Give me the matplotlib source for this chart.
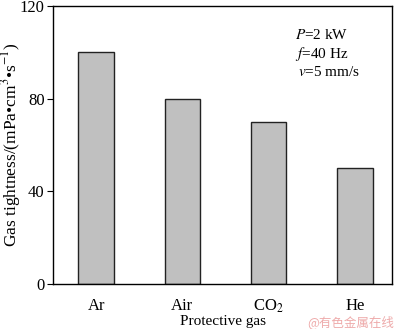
import matplotlib
matplotlib.use('Agg')
import matplotlib.pyplot as plt

gases = ['Ar', 'Air', 'CO$_2$', 'He']
tightness = [100, 80, 70, 50]
y_ticks = [0, 40, 80, 120]

plt.rcParams['font.family'] = ['Liberation Serif', 'DejaVu Serif']
plt.rcParams['mathtext.fontset'] = 'stix'

fig = plt.figure(figsize=(4.0, 3.29), dpi=100)
ax = fig.add_axes([53 / 400, 1 - 284 / 329, 339 / 400, 278 / 329])

x = list(range(len(gases)))
ax.bar(x, tightness, width=0.41, color='#c0c0c0', edgecolor='#222222', linewidth=1.0)

ax.set_xlim(-0.5, 3.43)
ax.set_ylim(0, 120)
ax.set_yticks(y_ticks)
ax.set_xticks(x)
ax.set_xticklabels(gases)
ax.tick_params(axis='x', length=0, labelsize=12, pad=10)
ax.tick_params(axis='y', direction='out', length=4, labelsize=12, pad=2)
for s in ax.spines.values():
    s.set_linewidth(1.0)

ax.set_xlabel('Protective gas', fontsize=11, labelpad=0)
ax.set_ylabel('Gas tightness/(mPa\u2022cm$^3$\u2022s$^{-1}$)', fontsize=12.5)
ax.yaxis.set_label_coords(-0.088, 0.5)

ax.text(0.715, 0.896, '$P$=2 kW', transform=ax.transAxes, fontsize=11, va='center')
ax.text(0.715, 0.829, '$f$=40 Hz', transform=ax.transAxes, fontsize=11, va='center')
ax.text(0.722, 0.762, '$v$=5 mm/s', transform=ax.transAxes, fontsize=11, va='center')

fig.text(0.985, 0.022, '@有色金属在线', fontsize=9, color='#eeaaaa', ha='right', va='center',
         family=['Noto Sans CJK SC', 'DejaVu Sans'])

fig.savefig('out.png', dpi=100)
